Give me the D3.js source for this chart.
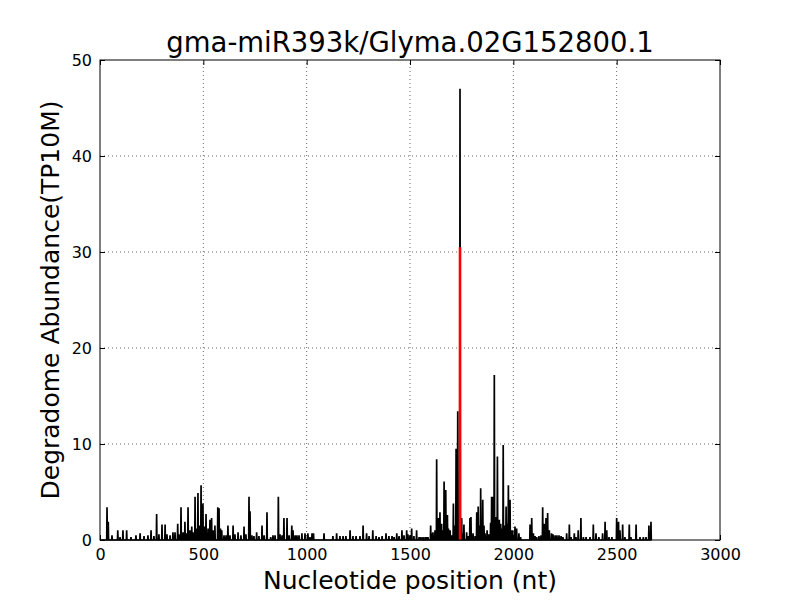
<!DOCTYPE html>
<html>
<head>
<meta charset="utf-8">
<script src="https://cdn.jsdelivr.net/npm/d3@7"></script>
<style>
  body { margin: 0; background: #fff; }
  text { font-family: "DejaVu Sans", sans-serif; }
</style>
</head>
<body>
<svg id="chart" width="800" height="600"></svg>
<script>
const titleText = "gma-miR393k/Glyma.02G152800.1";
const xLabel = "Nucleotide position (nt)";
const yLabel = "Degradome Abundance(TP10M)";
const xTicks = [0, 500, 1000, 1500, 2000, 2500, 3000];
const yTicks = [0, 10, 20, 30, 40, 50];

// nucleotide positions and degradome abundance
const positions = [
  34, 40, 58, 86, 97, 111, 129, 150, 174, 194, 213, 232, 247, 261, 274, 285, 300, 315, 324, 339,
  353, 363, 376, 382, 392, 402, 411, 419, 426, 435, 444, 450, 460, 467, 474, 481, 489, 495, 498, 506,
  513, 523, 532, 540, 547, 556, 570, 576, 583, 589, 600, 610, 619, 629, 644, 653, 668, 682, 697, 706,
  721, 726, 735, 745, 758, 769, 784, 794, 808, 826, 837, 847, 863, 871, 881, 890, 905, 915, 928, 934,
  944, 953, 963, 977, 992, 1006, 1016, 1026, 1033, 1084, 1127, 1145, 1161, 1176, 1190, 1210, 1224, 1239, 1258, 1273,
  1290, 1302, 1320, 1336, 1350, 1365, 1384, 1398, 1413, 1423, 1436, 1447, 1461, 1471, 1484, 1490, 1500, 1508, 1519, 1532,
  1544, 1553, 1563, 1573, 1581, 1587, 1600, 1605, 1611, 1621, 1629, 1637, 1645, 1653, 1660, 1665, 1673, 1681, 1686, 1694,
  1701, 1710, 1718, 1723, 1731, 1742, 1750, 1757, 1761, 1774, 1781, 1790, 1795, 1805, 1815, 1823, 1830, 1836, 1842, 1852,
  1858, 1863, 1873, 1882, 1890, 1895, 1903, 1908, 1916, 1923, 1927, 1932, 1939, 1945, 1951, 1960, 1965, 1969, 1976, 1984,
  1991, 1997, 2003, 2008, 2016, 2027, 2035, 2081, 2089, 2097, 2105, 2113, 2124, 2134, 2142, 2150, 2158, 2166, 2174, 2185,
  2192, 2202, 2211, 2221, 2231, 2240, 2258, 2271, 2279, 2295, 2303, 2314, 2327, 2339, 2352, 2371, 2387, 2400, 2414, 2432,
  2444, 2452, 2463, 2477, 2500, 2509, 2516, 2529, 2540, 2561, 2569, 2594, 2613, 2629, 2642, 2656, 2666
];
const abundance = [
  3.4, 1.9, 0.5, 1.0, 0.3, 1.0, 1.0, 0.3, 0.5, 0.7, 0.4, 0.5, 1.0, 0.4, 2.7, 0.6, 1.6, 1.6, 0.6, 0.5,
  0.8, 0.8, 1.7, 0.6, 3.4, 0.8, 1.9, 0.7, 3.4, 1.0, 1.4, 0.8, 4.5, 1.2, 4.9, 1.5, 5.7, 2.0, 3.8, 1.4,
  2.7, 1.2, 2.1, 2.3, 1.0, 1.5, 3.4, 3.3, 1.2, 1.0, 0.5, 0.5, 1.5, 0.5, 1.5, 0.6, 0.8, 0.5, 1.4, 0.6,
  4.5, 3.0, 0.5, 0.4, 0.8, 0.4, 1.5, 0.5, 2.9, 0.3, 0.5, 0.5, 4.5, 0.6, 0.5, 2.3, 2.3, 0.5, 1.5, 1.0,
  0.5, 0.5, 0.5, 0.7, 0.7, 0.7, 0.3, 0.7, 0.7, 0.7, 0.4, 0.7, 0.4, 0.4, 0.4, 1.0, 0.4, 0.4, 0.4, 1.5,
  0.7, 0.4, 1.0, 0.4, 0.3, 0.4, 0.7, 0.4, 0.4, 0.3, 0.7, 0.4, 1.0, 0.5, 1.0, 0.6, 0.5, 1.2, 0.4, 1.0,
  0.3, 0.3, 0.3, 0.3, 0.3, 0.3, 1.5, 0.7, 0.8, 1.0, 8.4, 2.3, 2.9, 1.7, 1.0, 6.1, 5.2, 2.6, 1.2, 1.0,
  0.5, 3.8, 1.5, 9.5, 13.4, 47.0, 2.3, 0.6, 1.6, 0.8, 0.4, 2.3, 2.4, 0.7, 0.4, 2.9, 3.5, 1.5, 5.4, 4.2,
  1.5, 0.7, 1.0, 0.6, 1.8, 4.5, 4.5, 17.2, 2.4, 8.7, 1.5, 2.1, 1.7, 1.2, 9.9, 1.5, 3.5, 1.7, 5.7, 4.2,
  1.0, 1.0, 0.5, 1.4, 1.2, 0.7, 0.3, 1.6, 2.3, 0.7, 0.4, 0.3, 0.4, 0.5, 3.4, 1.7, 2.3, 2.8, 1.0, 0.7,
  0.6, 0.5, 0.5, 0.5, 0.4, 0.3, 0.7, 1.6, 0.3, 0.7, 0.3, 1.0, 2.3, 0.3, 0.3, 0.3, 1.6, 0.7, 0.3, 0.7,
  1.9, 1.0, 0.3, 0.3, 2.3, 1.9, 1.0, 1.6, 0.3, 1.6, 0.3, 1.6, 0.3, 0.3, 0.3, 1.5, 1.9
];
// cleavage site (red)
const cleavagePos = [1742];
const cleavageVal = [30.5];

const W = 800, H = 600;
const m = { left: 100, right: 80, top: 60, bottom: 60 };
const svg = d3.select("#chart");
const x = d3.scaleLinear().domain([0, 3000]).range([m.left, W - m.right]);
const y = d3.scaleLinear().domain([0, 50]).range([H - m.bottom, m.top]);

// grid
const grid = svg.append("g");
grid.selectAll("line.gx").data(xTicks.slice(1, -1)).enter().append("line")
  .attr("x1", d => x(d)).attr("x2", d => x(d)).attr("y1", y(0)).attr("y2", y(50))
  .attr("stroke", "#000").attr("stroke-width", 0.6).attr("stroke-dasharray", "1,3");
grid.selectAll("line.gy").data(yTicks.slice(1, -1)).enter().append("line")
  .attr("y1", d => y(d)).attr("y2", d => y(d)).attr("x1", x(0)).attr("x2", x(3000))
  .attr("stroke", "#000").attr("stroke-width", 0.6).attr("stroke-dasharray", "1,3");

// data line (spikes on a zero baseline)
const pts = [[1, 0]];
positions.forEach((p, i) => { pts.push([p - 1.5, 0], [p, abundance[i]], [p + 1.5, 0]); });
const line = d3.line().x(d => x(d[0])).y(d => y(d[1]));
svg.append("path").attr("d", line(pts)).attr("fill", "none")
  .attr("stroke", "#000").attr("stroke-width", 1.7).attr("stroke-linejoin", "miter")
  .attr("stroke-miterlimit", 2);

// cleavage line
svg.selectAll("line.cl").data(cleavagePos).enter().append("line")
  .attr("x1", d => x(d)).attr("x2", d => x(d))
  .attr("y1", y(0)).attr("y2", (d, i) => y(cleavageVal[i]))
  .attr("stroke", "#ff0000").attr("stroke-width", 2.6);

// axes (inward ticks, all four sides)
const tickFont = "16px";
const xb = svg.append("g").attr("transform", `translate(0,${y(0)})`)
  .call(d3.axisBottom(x).tickValues(xTicks).tickSize(-5).tickPadding(9).tickFormat(d3.format("d")));
const xt = svg.append("g").attr("transform", `translate(0,${y(50)})`)
  .call(d3.axisTop(x).tickValues(xTicks).tickSize(-5).tickFormat(""));
const yl = svg.append("g").attr("transform", `translate(${x(0)},0)`)
  .call(d3.axisLeft(y).tickValues(yTicks).tickSize(-5).tickPadding(8));
const yr = svg.append("g").attr("transform", `translate(${x(3000)},0)`)
  .call(d3.axisRight(y).tickValues(yTicks).tickSize(-5).tickFormat(""));
[xb, xt, yl, yr].forEach(g => {
  g.select(".domain").remove();
  g.selectAll(".tick line").attr("stroke", "#000").attr("stroke-width", 1);
  g.selectAll(".tick text").attr("fill", "#000").style("font-size", tickFont)
    .style("font-family", "DejaVu Sans, sans-serif");
});

// frame
svg.append("rect").attr("x", x(0)).attr("y", y(50))
  .attr("width", x(3000) - x(0)).attr("height", y(0) - y(50))
  .attr("fill", "none").attr("stroke", "#000").attr("stroke-width", 1);

// labels
svg.append("text").attr("x", (x(0) + x(3000)) / 2).attr("y", 52)
  .attr("text-anchor", "middle").style("font-size", "27.5px").text(titleText);
svg.append("text").attr("x", (x(0) + x(3000)) / 2).attr("y", 589)
  .attr("text-anchor", "middle").style("font-size", "25px").text(xLabel);
svg.append("text").attr("transform", `translate(59,${(y(0) + y(50)) / 2}) rotate(-90)`)
  .attr("text-anchor", "middle").style("font-size", "25px").text(yLabel);
</script>
</body>
</html>
